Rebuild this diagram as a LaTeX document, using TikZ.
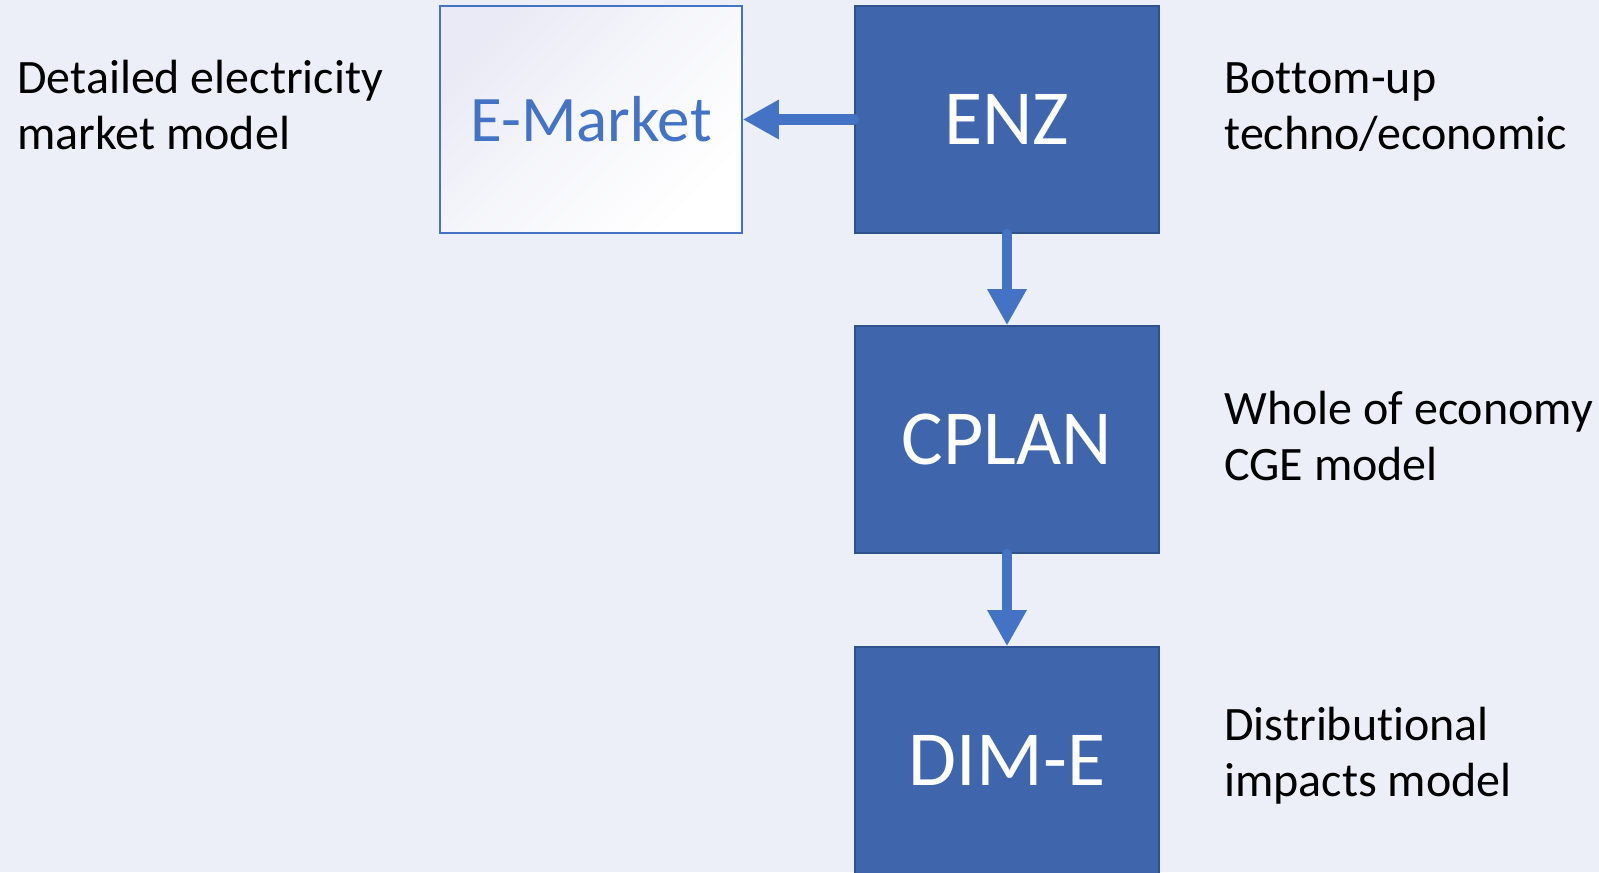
\documentclass[tikz,border=0pt]{standalone}
\usepackage{fontspec}
\setmainfont{Carlito}[RawFeature={-liga;-clig;-calt;-dlig}]
\usetikzlibrary{arrows.meta}
\definecolor{bgblue}{HTML}{ECEFF8}
\definecolor{boxblue}{HTML}{3F65AD}
\definecolor{edgeblue}{HTML}{2F528F}
\definecolor{flowblue}{HTML}{4472C4}
\definecolor{shadeblue}{HTML}{E9EAF5}
\newcommand\nolig{\kern0pt}

\begin{document}
\begin{tikzpicture}[x=0.5pt, y=-0.5pt,
  model/.style={draw=edgeblue, fill=boxblue, text=white, line width=0.8pt,
    minimum width=152pt, minimum height=113.5pt, inner sep=0pt,
    font=\fontsize{39}{39}\selectfont},
  side/.style={anchor=base west, align=left, inner sep=0pt,
    font=\fontsize{24}{28}\selectfont},
  flow/.style={draw=flowblue, line width=5pt, line cap=round,
    -{Triangle[length=18pt, width=18.5pt]}}]

  \fill[bgblue] (0, 0) rectangle (1599, 872);
  \clip (0, 0) rectangle (1599, 872);

  \node[draw=flowblue, line width=0.8pt, shading=axis, top color=shadeblue,
    bottom color=white, middle color=white!60!shadeblue, shading angle=45,
    text=flowblue, minimum width=151pt, minimum height=113.5pt, inner sep=0pt,
    font=\fontsize{32.5}{32.5}\selectfont]
    (emarket) at (591, 119.5) {E-Market};
  \node[model] (enz) at (1007, 119.5) {ENZ};
  \node[model] (cplan) at (1007, 439.5) {CPLAN};
  \node[model] (dime) at (1007, 760.5) {DIM-E};

  % base anchor sits on the last line
  \node[side] (emarketinfo) at (17, 149) {Detailed electricity\\market model};
  \node[side] (enzinfo) at (1224, 149) {Bot\nolig tom-up\\techno/economic};
  \node[side] (cplaninfo) at (1224, 480) {Whole of economy\\CGE model};
  \node[side] (dimeinfo) at (1224, 796) {Distribu\nolig tional\\impacts model};

  \draw[flow] (enz.west) -- (emarket.east);
  \draw[flow] (enz.south) -- (cplan.north);
  \draw[flow] (cplan.south) -- (dime.north);
\end{tikzpicture}
\end{document}
